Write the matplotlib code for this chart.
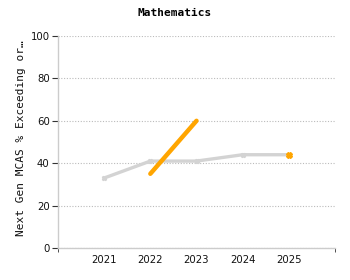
import matplotlib
matplotlib.use("Agg")
import matplotlib.pyplot as plt
import numpy as np

years = [2021, 2022, 2023, 2024, 2025]
state_vals = [33, 41, 41, 44, 44]
school_years = [2022, 2023]
school_vals = [35, 60]
single_year = [2025]
single_val = [44]
yticks = [0, 20, 40, 60, 80, 100]

fig = plt.figure(figsize=(3.5, 2.8), dpi=100)
ax = fig.add_axes([58/350, 1-248/280, (335-58)/350, (248-36)/280])

ax.plot(years, state_vals, color="#d3d3d3", lw=2.4, marker="X", ms=3, mec="#d3d3d3", solid_capstyle="round", zorder=3)
ax.plot(school_years, school_vals, color="#FFA500", lw=3.2, solid_capstyle="round", zorder=4)
ax.plot(single_year, single_val, color="#FFA500", lw=0, marker="X", ms=4, zorder=4)

ax.set_xlim(2020, 2026)
ax.set_ylim(0, 100)
ax.set_yticks(yticks)
ax.set_xticks(years)
ax.grid(axis="y", color="#bbbbbb", ls=(0, (1, 1.5)), lw=0.8)
ax.set_axisbelow(True)
for s in ["top", "right"]:
    ax.spines[s].set_visible(False)
for s in ["left", "bottom"]:
    ax.spines[s].set_color("#cccccc")
    ax.spines[s].set_linewidth(1)
ax.tick_params(axis="y", length=4, width=0.8, color="#333333", labelsize=7.3, labelcolor="#111111", pad=2)
ax.tick_params(axis="x", length=0, labelsize=7.3, labelcolor="#111111", pad=5)
ax.set_xticks([2020, 2026], minor=True)
ax.tick_params(axis="x", which="minor", length=3, color="#333333")

ax.set_ylabel("Next Gen MCAS % Exceeding or\u2026", family="DejaVu Sans Mono", fontsize=8, color="#111111")
ax.yaxis.set_label_coords(-0.115, 0.52)
fig.text(0.5, 1-13/280, "Mathematics", ha="center", va="center", family="DejaVu Sans Mono", weight="bold", fontsize=8)

fig.savefig("out.png", dpi=100)
